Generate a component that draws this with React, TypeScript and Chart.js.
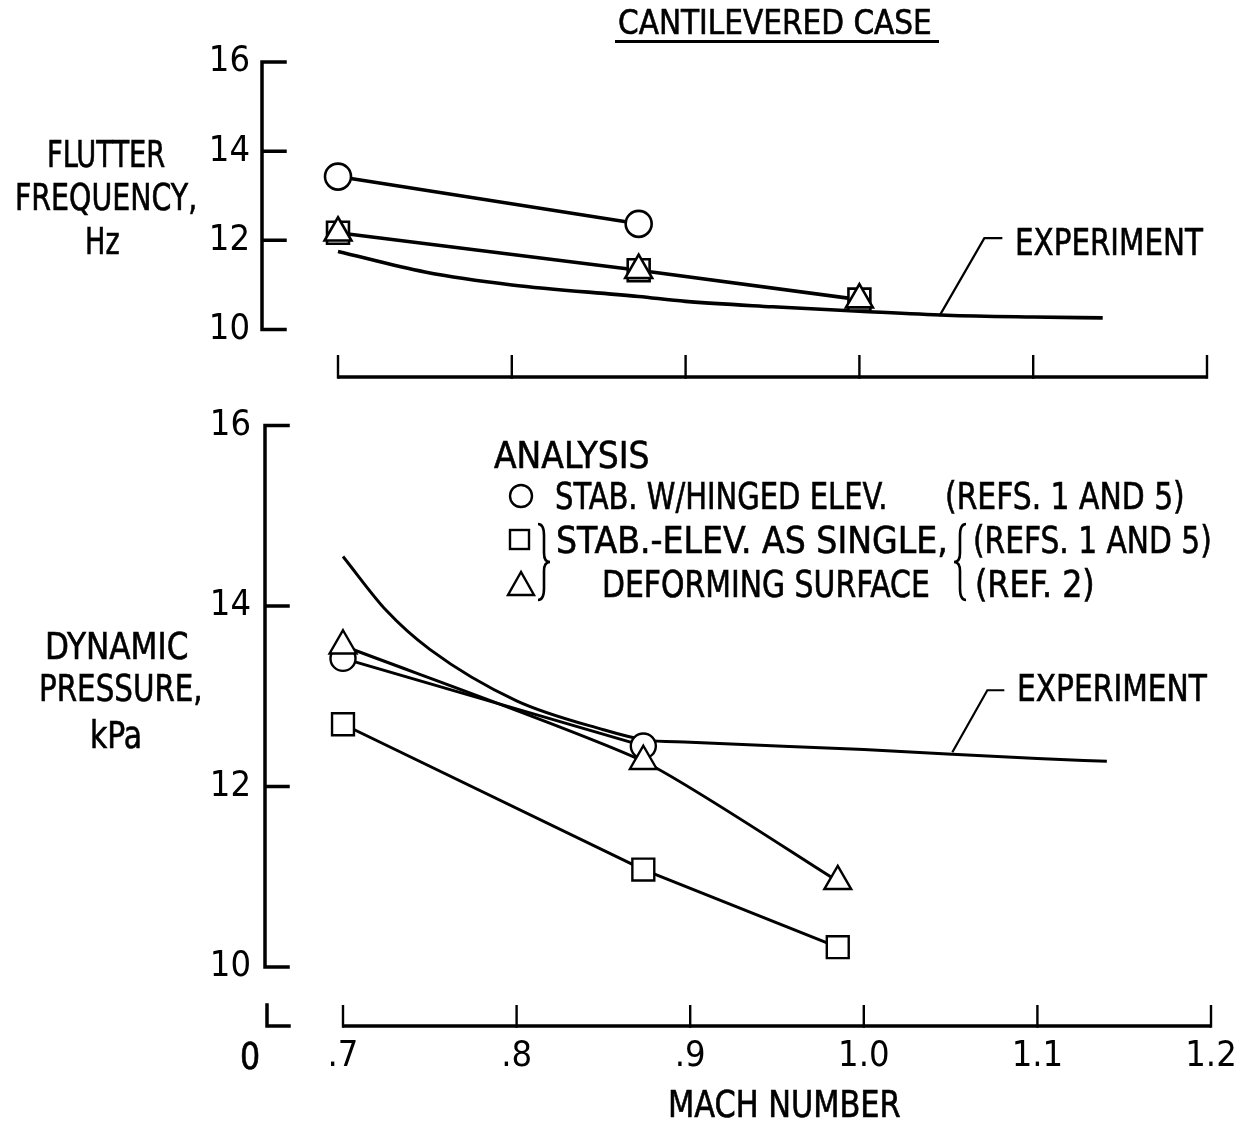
import React, { useEffect, useLayoutEffect, useRef } from 'react';
import { Chart, registerables } from 'chart.js';

Chart.register(...registerables);

const FONT = "'Liberation Sans Narrow', 'DejaVu Sans Condensed', 'DejaVu Sans', sans-serif";

// ---- axes ----
const machTicks = [0.7, 0.8, 0.9, 1.0, 1.1, 1.2];
const machTickLabels = ['.7', '.8', '.9', '1.0', '1.1', '1.2'];
const yTicks = [10, 12, 14, 16];
const yTickLabels = ['10', '12', '14', '16'];

// ---- flutter frequency, Hz (top panel) ----
const freqHingedMach = [0.7, 0.873];
const freqHinged = [13.43, 12.37];
const freqSingleMach = [0.7, 0.873, 1.0];
const freqSingleRefs15 = [12.17, 11.33, 10.67];
const freqSingleRef2 = [12.17, 11.33, 10.67];
const freqExpMach = [0.7, 0.75, 0.8, 0.873, 0.9, 0.95, 1.0, 1.05, 1.1, 1.14];
const freqExp = [11.75, 11.29, 11.0, 10.74, 10.63, 10.51, 10.41, 10.32, 10.28, 10.26];

// ---- dynamic pressure, kPa (bottom panel) ----
const presHingedMach = [0.7, 0.873];
const presHinged = [13.42, 12.45];
const presSingleMach = [0.7, 0.873, 0.985];
const presSingleRefs15 = [12.69, 11.08, 10.22];
const presSingleRef2 = [13.56, 12.28, 10.95];
const presExpMach = [0.7, 0.725, 0.75, 0.8, 0.85, 0.873, 0.9, 1.0, 1.1, 1.14];
const presExp = [14.55, 13.95, 13.52, 12.95, 12.63, 12.52, 12.49, 12.41, 12.31, 12.28];

const pts = (xs: number[], ys: number[]) => xs.map((x, i) => ({ x, y: ys[i] }));

const axisPlugin = {
  id: 'customAxes',
  afterDraw(chart: any, _args: any, opts: any) {
    const { ctx, chartArea, scales } = chart;
    const x = scales.x;
    const y = scales.y;
    ctx.save();
    ctx.strokeStyle = '#000';
    ctx.lineWidth = opts.axisWidth;
    ctx.lineCap = 'square';
    // vertical axis with inward ticks
    const ax = chartArea.left;
    ctx.beginPath();
    ctx.moveTo(ax, y.getPixelForValue(16));
    ctx.lineTo(ax, y.getPixelForValue(10));
    for (const v of yTicks) {
      const py = y.getPixelForValue(v);
      ctx.moveTo(ax, py);
      ctx.lineTo(ax + opts.yTickLen, py);
    }
    ctx.stroke();
    // horizontal (Mach) axis, detached below the plot
    const ay = chartArea.bottom + opts.xAxisOffset;
    ctx.lineCap = 'butt';
    ctx.beginPath();
    ctx.moveTo(x.getPixelForValue(machTicks[0]), ay);
    ctx.lineTo(x.getPixelForValue(machTicks[machTicks.length - 1]), ay);
    ctx.stroke();
    ctx.lineWidth = opts.tickWidth;
    ctx.beginPath();
    for (const v of machTicks) {
      const px = x.getPixelForValue(v);
      ctx.moveTo(px, ay + opts.axisWidth / 2);
      ctx.lineTo(px, ay - opts.xTickLen);
    }
    ctx.stroke();
    if (opts.breakMark) {
      ctx.lineWidth = opts.axisWidth;
      ctx.lineCap = 'square';
      ctx.beginPath();
      ctx.moveTo(ax + 2, ay - opts.xTickLen);
      ctx.lineTo(ax + 2, ay);
      ctx.lineTo(ax + 24, ay);
      ctx.stroke();
    }
    // leader to the EXPERIMENT label
    if (opts.leader) {
      const [lx, ly, dx, dy, hx] = opts.leader;
      const sx = x.getPixelForValue(lx);
      const sy = y.getPixelForValue(ly);
      ctx.lineWidth = 2.2;
      ctx.lineCap = 'butt';
      ctx.beginPath();
      ctx.moveTo(sx, sy);
      ctx.lineTo(sx + dx, sy + dy);
      ctx.lineTo(sx + dx + hx, sy + dy);
      ctx.stroke();
    }
    ctx.restore();
  },
};

type PanelOpts = {
  height: number;
  padLeft: number;
  padTop: number;
  padRight: number;
  padBottom: number;
  xMin: number;
  showX: boolean;
  xHeight: number;
  xLabelPad: number;
  yLabelPad: number;
  tickSize: number;
  axisW: number;
  tickW: number;
  xAxisOffset: number;
  xTickLen: number;
  yTickLen: number;
  breakMark: boolean;
  leader: number[];
  datasets: any[];
};

function makeConfig(p: PanelOpts): any {
  return {
    type: 'line',
    data: { datasets: p.datasets },
    options: {
      animation: false,
      responsive: false,
      maintainAspectRatio: false,
      layout: { padding: { left: p.padLeft, top: p.padTop, right: p.padRight, bottom: p.padBottom } },
      plugins: {
        legend: { display: false },
        tooltip: { enabled: false },
        title: { display: false },
        customAxes: {
          axisWidth: p.axisW,
          tickWidth: p.tickW,
          xAxisOffset: p.xAxisOffset,
          xTickLen: p.xTickLen,
          yTickLen: p.yTickLen,
          breakMark: p.breakMark,
          leader: p.leader,
        },
      },
      scales: {
        x: {
          type: 'linear',
          min: p.xMin,
          max: 1.2,
          display: p.showX,
          afterBuildTicks: (s: any) => {
            s.ticks = machTicks.map((v) => ({ value: v }));
          },
          afterFit: (s: any) => {
            s.height = p.xHeight;
            s.paddingLeft = 0;
            s.paddingRight = 0;
          },
          ticks: {
            autoSkip: false,
            maxRotation: 0,
            padding: p.xLabelPad,
            color: '#000',
            font: { family: FONT, size: p.tickSize },
            callback: (_v: any, i: number) => machTickLabels[i],
          },
          grid: { display: false, drawTicks: false },
          border: { display: false },
        },
        y: {
          type: 'linear',
          min: 10,
          max: 16,
          afterBuildTicks: (s: any) => {
            s.ticks = yTicks.map((v) => ({ value: v }));
          },
          afterFit: (s: any) => {
            s.width = 100;
          },
          ticks: {
            padding: p.yLabelPad,
            color: '#000',
            font: { family: FONT, size: p.tickSize },
            callback: (_v: any, i: number) => yTickLabels[i],
          },
          grid: { display: false, drawTicks: false },
          border: { display: false },
        },
      },
    },
    plugins: [axisPlugin],
  };
}

const markerBase = {
  pointBackgroundColor: '#fff',
  pointBorderColor: '#000',
  borderColor: '#000',
  backgroundColor: '#fff',
  fill: false,
  clip: false,
  pointHoverRadius: 0,
};

const topDatasets = [
  {
    ...markerBase,
    label: 'Stab. w/hinged elev. (Refs. 1 and 5)',
    data: pts(freqHingedMach, freqHinged),
    pointStyle: 'circle',
    pointRadius: 13,
    pointBorderWidth: 2.6,
    borderWidth: 3.6,
  },
  {
    ...markerBase,
    label: 'Stab.-elev. as single deforming surface (Ref. 2)',
    data: pts(freqSingleMach, freqSingleRef2),
    pointStyle: 'triangle',
    pointRadius: 15.5,
    pointBorderWidth: 2.6,
    showLine: false,
  },
  {
    ...markerBase,
    label: 'Stab.-elev. as single deforming surface (Refs. 1 and 5)',
    data: pts(freqSingleMach, freqSingleRefs15),
    pointStyle: 'rect',
    pointRadius: 15.5,
    pointBorderWidth: 2.6,
    borderWidth: 3.6,
  },
  {
    ...markerBase,
    label: 'Experiment',
    data: pts(freqExpMach, freqExp),
    pointRadius: 0,
    borderWidth: 3.6,
    cubicInterpolationMode: 'monotone',
  },
];

const bottomDatasets = [
  {
    ...markerBase,
    label: 'Stab.-elev. as single deforming surface (Ref. 2)',
    data: pts(presSingleMach, presSingleRef2),
    pointStyle: 'triangle',
    pointRadius: 15.5,
    pointBorderWidth: 2.4,
    borderWidth: 3,
    tension: 0.2,
  },
  {
    ...markerBase,
    label: 'Stab. w/hinged elev. (Refs. 1 and 5)',
    data: pts(presHingedMach, presHinged),
    pointStyle: 'circle',
    pointRadius: 12.5,
    pointBorderWidth: 2.4,
    borderWidth: 3,
  },
  {
    ...markerBase,
    label: 'Stab.-elev. as single deforming surface (Refs. 1 and 5)',
    data: pts(presSingleMach, presSingleRefs15),
    pointStyle: 'rect',
    pointRadius: 15.5,
    pointBorderWidth: 2.4,
    borderWidth: 3,
  },
  {
    ...markerBase,
    label: 'Experiment',
    data: pts(presExpMach, presExp),
    pointRadius: 0,
    borderWidth: 3,
    cubicInterpolationMode: 'monotone',
  },
];

const topPanel: PanelOpts = {
  height: 400,
  padLeft: 162,
  padTop: 62,
  padRight: 33,
  padBottom: 70.5,
  xMin: 0.7 - 76 / 1738,
  showX: false,
  xHeight: 0,
  xLabelPad: 0,
  yLabelPad: 12,
  tickSize: 36,
  axisW: 3.5,
  tickW: 2.4,
  xAxisOffset: 47.5,
  xTickLen: 22,
  yTickLen: 23,
  breakMark: false,
  leader: [1.046, 10.3, 45, -78, 18],
  datasets: topDatasets,
};

const bottomPanel: PanelOpts = {
  height: 732,
  padLeft: 165,
  padTop: 24,
  padRight: 29,
  padBottom: 0,
  xMin: 0.7 - 78 / 1736,
  showX: true,
  xHeight: 155,
  xLabelPad: 68,
  yLabelPad: 14,
  tickSize: 36,
  axisW: 3.5,
  tickW: 2.4,
  xAxisOffset: 59,
  xTickLen: 21,
  yTickLen: 23,
  breakMark: true,
  leader: [1.051, 12.38, 35, -62, 17],
  datasets: bottomDatasets,
};

function ChartCanvas({ top, panel }: { top: number; panel: PanelOpts }) {
  const ref = useRef<HTMLCanvasElement>(null);
  useEffect(() => {
    if (!ref.current) return;
    const chart = new Chart(ref.current, makeConfig(panel));
    return () => chart.destroy();
  }, []);
  return (
    <canvas
      ref={ref}
      width={1240}
      height={panel.height}
      style={{ position: 'absolute', left: 0, top, width: 1240, height: panel.height }}
    />
  );
}

function Txt({ x, y, w, size, children }: { x: number; y: number; w: number; size: number; children: string }) {
  const ref = useRef<HTMLSpanElement>(null);
  useLayoutEffect(() => {
    const el = ref.current;
    if (!el) return;
    el.style.transform = 'translateY(-50%)';
    const nat = el.offsetWidth || 1;
    el.style.transform = `translateY(-50%) scaleX(${w / nat})`;
  }, [w, children]);
  return (
    <span
      ref={ref}
      style={{
        position: 'absolute',
        left: x,
        top: y,
        fontSize: size,
        fontFamily: FONT,
        lineHeight: 1,
        whiteSpace: 'pre',
        transformOrigin: '0 50%',
        color: '#000',
        WebkitTextStroke: '0.6px #000',
      }}
    >
      {children}
    </span>
  );
}

function brace(x0: number, top: number, bottom: number, w: number, dir: number) {
  // dir = 1 -> points right '}' ; dir = -1 -> points left '{'
  const mid = (top + bottom) / 2;
  const xm = x0 + (dir * w) / 2;
  const xt = x0 + dir * w;
  const h = bottom - top;
  return `M ${x0} ${top} Q ${xm} ${top} ${xm} ${top + h * 0.15} L ${xm} ${mid - h * 0.12} Q ${xm} ${mid} ${xt} ${mid} Q ${xm} ${mid} ${xm} ${mid + h * 0.12} L ${xm} ${bottom - h * 0.15} Q ${xm} ${bottom} ${x0} ${bottom}`;
}

export default function App() {
  useEffect(() => {
    document.body.style.margin = '0';
    document.body.style.background = '#fff';
  }, []);
  const TS = 37;
  return (
    <div style={{ position: 'relative', width: 1240, height: 1122, background: '#fff', overflow: 'hidden' }}>
      <ChartCanvas top={0} panel={topPanel} />
      <ChartCanvas top={390} panel={bottomPanel} />

      {/* title */}
      <Txt x={618} y={22} w={314} size={33}>CANTILEVERED CASE</Txt>
      <div style={{ position: 'absolute', left: 615, top: 40, width: 324, height: 3, background: '#000' }} />

      {/* y-axis titles */}
      <Txt x={47} y={154} w={118} size={TS}>FLUTTER</Txt>
      <Txt x={15} y={197} w={182} size={TS}>FREQUENCY,</Txt>
      <Txt x={85} y={241} w={35} size={TS}>Hz</Txt>

      <Txt x={45} y={646} w={143} size={TS}>DYNAMIC</Txt>
      <Txt x={39} y={688} w={164} size={TS}>PRESSURE,</Txt>
      <Txt x={90} y={735} w={52} size={TS}>kPa</Txt>

      {/* x-axis title and broken-axis origin */}
      <Txt x={668} y={1104} w={233} size={TS}>MACH NUMBER</Txt>
      <Txt x={240} y={1056} w={20} size={TS}>0</Txt>

      {/* experiment labels */}
      <Txt x={1015} y={242} w={188} size={TS}>EXPERIMENT</Txt>
      <Txt x={1017} y={688} w={190} size={TS}>EXPERIMENT</Txt>

      {/* legend */}
      <Txt x={494} y={455} w={155} size={TS}>ANALYSIS</Txt>
      <Txt x={555} y={496} w={332} size={TS}>STAB. W/HINGED ELEV.</Txt>
      <Txt x={945} y={496} w={240} size={TS}>(REFS. 1 AND 5)</Txt>
      <Txt x={556} y={540} w={392} size={TS}>STAB.-ELEV. AS SINGLE,</Txt>
      <Txt x={973} y={540} w={239} size={TS}>(REFS. 1 AND 5)</Txt>
      <Txt x={602} y={584} w={328} size={TS}>DEFORMING SURFACE</Txt>
      <Txt x={975} y={584} w={120} size={TS}>(REF. 2)</Txt>

      <svg
        width={1240}
        height={1122}
        style={{ position: 'absolute', left: 0, top: 0, pointerEvents: 'none' }}
      >
        <circle cx={521} cy={496} r={11} fill="none" stroke="#000" strokeWidth={2.4} />
        <rect x={510} y={530} width={19} height={19} fill="none" stroke="#000" strokeWidth={2.4} />
        <polygon points="521,572 508,595 534,595" fill="none" stroke="#000" strokeWidth={2.4} />
        <path d={brace(538, 524, 600, 12, 1)} fill="none" stroke="#000" strokeWidth={2.6} />
        <path d={brace(966, 524, 600, 12, -1)} fill="none" stroke="#000" strokeWidth={2.6} />
      </svg>
    </div>
  );
}
